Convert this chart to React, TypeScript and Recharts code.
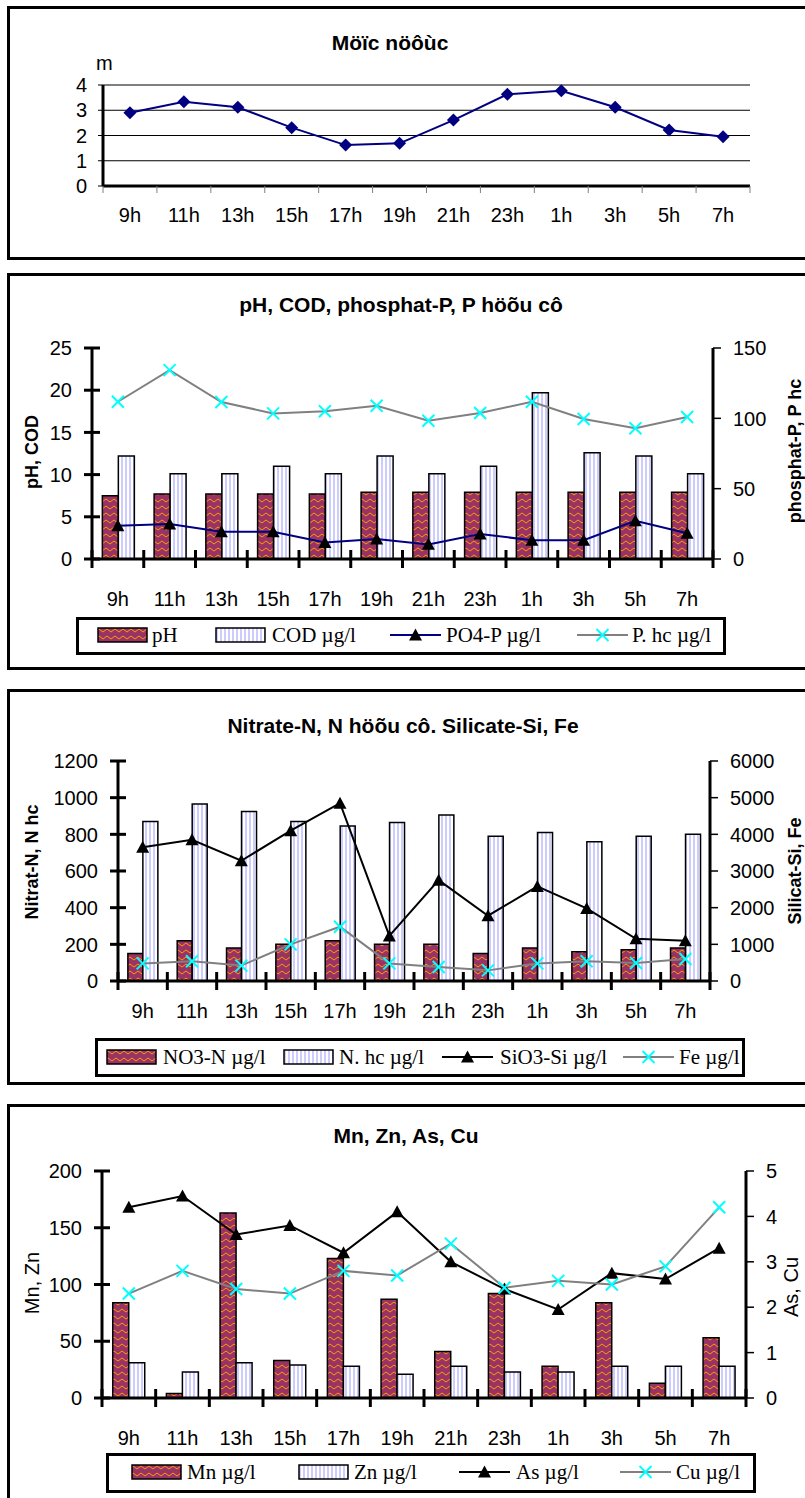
import React from 'react';
import { ComposedChart, Line, Bar, XAxis, YAxis, CartesianGrid, Legend } from 'recharts';

// ---------- data ----------
const hours = ['9h', '11h', '13h', '15h', '17h', '19h', '21h', '23h', '1h', '3h', '5h', '7h'];
const waterLevel = [2.9, 3.34, 3.12, 2.31, 1.62, 1.69, 2.61, 3.63, 3.77, 3.12, 2.22, 1.95];
const pH = [7.5, 7.7, 7.7, 7.7, 7.7, 7.9, 7.9, 7.9, 7.9, 7.9, 7.9, 7.9];
const cod = [12.2, 10.1, 10.1, 11.0, 10.1, 12.2, 10.1, 11.0, 19.7, 12.6, 12.2, 10.1];
const po4p = [23.7, 24.9, 19.4, 19.4, 11.8, 14.2, 10.4, 17.8, 13.3, 13.3, 27.2, 18.3];
const phc = [111.8, 134.3, 111.6, 103.5, 105, 109, 98.3, 103.8, 111.8, 99.5, 92.9, 100.9];
const no3n = [150, 220, 180, 200, 220, 200, 200, 150, 180, 160, 170, 180];
const nhc = [870, 965, 925, 870, 845, 865, 905, 790, 810, 760, 790, 800];
const sio3 = [3650, 3850, 3280, 4100, 4850, 1230, 2750, 1780, 2580, 1980, 1150, 1100];
const fe = [480, 540, 420, 1000, 1480, 480, 380, 290, 480, 540, 490, 600];
const mn = [84, 4, 163, 33, 123, 87, 41, 92, 28, 84, 13, 53];
const zn = [31, 23, 31, 29, 28, 21, 28, 23, 23, 28, 28, 28];
const asv = [4.2, 4.45, 3.6, 3.8, 3.2, 4.1, 3.0, 2.4, 1.95, 2.75, 2.62, 3.3];
const cu = [2.3, 2.8, 2.4, 2.3, 2.8, 2.7, 3.4, 2.43, 2.58, 2.5, 2.9, 4.2];

const ticksLevel = [0, 1, 2, 3, 4];
const ticksPhCod = [0, 5, 10, 15, 20, 25];
const ticksPhosphat = [0, 50, 100, 150];
const ticksNitrat = [0, 200, 400, 600, 800, 1000, 1200];
const ticksSilicat = [0, 1000, 2000, 3000, 4000, 5000, 6000];
const ticksMnZn = [0, 50, 100, 150, 200];
const ticksAsCu = [0, 1, 2, 3, 4, 5];

const data1 = hours.map((h, i) => ({ h, level: waterLevel[i] }));
const data2 = hours.map((h, i) => ({ h, ph: pH[i], cod: cod[i], po4p: po4p[i], phc: phc[i] }));
const data3 = hours.map((h, i) => ({ h, no3n: no3n[i], nhc: nhc[i], sio3: sio3[i], fe: fe[i] }));
const data4 = hours.map((h, i) => ({ h, mn: mn[i], zn: zn[i], as: asv[i], cu: cu[i] }));

// ---------- layout ----------
const W = 805;
const SANS = "'Liberation Sans', Arial, Helvetica, sans-serif";
const SERIF = "'Liberation Serif', 'Times New Roman', Times, serif";

type Box = { top: number; height: number; pl: number; pr: number; pt: number; pb: number; wl: number; wr: number; hx: number };
const margins = (b: Box) => ({
  top: b.pt - b.top,
  left: b.pl - b.wl,
  right: W - b.pr - b.wr,
  bottom: b.top + b.height - b.pb - b.hx,
});
const halfBand = (b: Box) => (b.pr - b.pl) / hours.length / 2;

const L1: Box = { top: 6, height: 254, pl: 103, pr: 750, pt: 85, pb: 186, wl: 50, wr: 0, hx: 50 };
const L2: Box = { top: 273, height: 397, pl: 92, pr: 713, pt: 348, pb: 559, wl: 50, wr: 50, hx: 60 };
const L3: Box = { top: 689, height: 396, pl: 118, pr: 710, pt: 761, pb: 981, wl: 50, wr: 50, hx: 60 };
const L4: Box = { top: 1104, height: 394, pl: 102, pr: 746, pt: 1171, pb: 1398, wl: 50, wr: 50, hx: 60 };

const AXIS = { stroke: '#000', strokeWidth: 3 };

// ---------- ticks ----------
type XTS = { box: Box; t1: number; t2: number; color: string; w: number; dy: number };
const makeXTick = (s: XTS) => (props: any) => {
  const x = Number(props.x);
  const y = Number(props.y);
  const { payload, index } = props;
  const half = halfBand(s.box);
  const isLast = payload && payload.value === hours[hours.length - 1];
  return (
    <g key={`xt${index}`}>
      <path d={`M${x - half},${y + s.t1}L${x - half},${y + s.t2}`} stroke={s.color} strokeWidth={s.w} fill="none" />
      {isLast && (
        <path d={`M${x + half},${y + s.t1}L${x + half},${y + s.t2}`} stroke={s.color} strokeWidth={s.w} fill="none" />
      )}
      <text x={x} y={y + s.dy} textAnchor="middle" fontFamily={SANS} fontSize={20} fill="#000">
        {payload.value}
      </text>
    </g>
  );
};

type YTS = { t1: number; t2: number; color: string; w: number; dx: number; side: 'left' | 'right'; fs: number };
const makeYTick = (s: YTS) => (props: any) => {
  const x = Number(props.x);
  const y = Number(props.y);
  const { payload, index } = props;
  return (
    <g key={`yt${index}`}>
      <path d={`M${x + s.t1},${y}L${x + s.t2},${y}`} stroke={s.color} strokeWidth={s.w} fill="none" />
      <text
        x={s.side === 'left' ? x - s.dx : x + s.dx}
        y={y + s.fs * 0.36}
        textAnchor={s.side === 'left' ? 'end' : 'start'}
        fontFamily={SANS}
        fontSize={s.fs}
        fill="#000"
      >
        {payload.value}
      </text>
    </g>
  );
};

const xTick1 = makeXTick({ box: L1, t1: 0, t2: 7, color: '#808080', w: 1, dy: 36 });
const yTick1 = makeYTick({ t1: -5, t2: 0, color: '#000', w: 1, dx: 16, side: 'left', fs: 20 });
const xTick2 = makeXTick({ box: L2, t1: -9, t2: 9, color: '#000', w: 3, dy: 47 });
const xTick3 = makeXTick({ box: L3, t1: -9, t2: 9, color: '#000', w: 3, dy: 37 });
const xTick4 = makeXTick({ box: L4, t1: -9, t2: 9, color: '#000', w: 3, dy: 47 });
const yTickL = makeYTick({ t1: -8, t2: 8, color: '#000', w: 3, dx: 20, side: 'left', fs: 20 });
const yTickR = makeYTick({ t1: 0, t2: 8, color: '#000', w: 1.5, dx: 20, side: 'right', fs: 20 });

// ---------- markers ----------
const Diamond = ({ cx, cy, c }: any) => (
  <polygon points={`${cx},${cy - 6.5} ${cx + 6.5},${cy} ${cx},${cy + 6.5} ${cx - 6.5},${cy}`} fill={c} />
);
const Tri = ({ cx, cy, c }: any) => (
  <polygon points={`${cx},${cy - 6.5} ${cx + 6.5},${cy + 5.5} ${cx - 6.5},${cy + 5.5}`} fill={c} />
);
const Cross = ({ cx, cy, c }: any) => (
  <g>
    <line x1={cx - 6} y1={cy - 6} x2={cx + 6} y2={cy + 6} stroke={c} strokeWidth={2} />
    <line x1={cx - 6} y1={cy + 6} x2={cx + 6} y2={cy - 6} stroke={c} strokeWidth={2} />
  </g>
);

const diamondDot = (p: any) => <Diamond key={`dm${p.index}`} cx={p.cx} cy={p.cy} c="#000080" />;
const triDot = (p: any) => <Tri key={`tr${p.index}`} cx={p.cx} cy={p.cy} c="#000" />;
const crossDot = (p: any) => <Cross key={`cr${p.index}`} cx={p.cx} cy={p.cy} c="#00FFFF" />;

// ---------- legend ----------
type LegItem = { key: string; kind: 'bar' | 'line'; fill?: string; stroke?: string; marker?: 'tri' | 'cross'; sx: number; tx: number };
const makeLegend = (items: LegItem[], w: number, h: number) => (props: any) => {
  const payload: any[] = props.payload || [];
  const inner = h - 6;
  const mid = inner / 2 - 1;
  return (
    <div
      style={{
        position: 'relative',
        width: w,
        height: h,
        border: '3px solid #000',
        boxSizing: 'border-box',
        background: '#fff',
      }}
    >
      {payload.map((p: any) => {
        const it = items.find((i) => i.key === p.dataKey);
        if (!it) return null;
        return (
          <React.Fragment key={it.key}>
            <svg width={52} height={16} style={{ position: 'absolute', left: it.sx - 3, top: mid - 8 }}>
              {it.kind === 'bar' ? (
                <rect x={1} y={1} width={49} height={14} fill={it.fill} stroke="#000" strokeWidth={1.5} />
              ) : (
                <g>
                  <line x1={0} x2={51} y1={8} y2={8} stroke={it.stroke} strokeWidth={2} />
                  {it.marker === 'tri' ? <Tri cx={25.5} cy={8} c="#000" /> : <Cross cx={25.5} cy={8} c="#00FFFF" />}
                </g>
              )}
            </svg>
            <span
              style={{
                position: 'absolute',
                left: it.tx - 3,
                top: mid - 12,
                fontFamily: SERIF,
                fontSize: 21,
                lineHeight: '24px',
                whiteSpace: 'nowrap',
                color: '#000',
              }}
            >
              {p.value}
            </span>
          </React.Fragment>
        );
      })}
    </div>
  );
};

const legend2 = makeLegend(
  [
    { key: 'ph', kind: 'bar', fill: 'url(#wave)', sx: 21, tx: 76 },
    { key: 'cod', kind: 'bar', fill: 'url(#vstripe)', sx: 139, tx: 196 },
    { key: 'po4p', kind: 'line', stroke: '#000080', marker: 'tri', sx: 314, tx: 370 },
    { key: 'phc', kind: 'line', stroke: '#808080', marker: 'cross', sx: 501, tx: 556 },
  ],
  650,
  38
);
const legend3 = makeLegend(
  [
    { key: 'no3n', kind: 'bar', fill: 'url(#wave)', sx: 11, tx: 68 },
    { key: 'nhc', kind: 'bar', fill: 'url(#vstripe)', sx: 188, tx: 244 },
    { key: 'sio3', kind: 'line', stroke: '#000', marker: 'tri', sx: 347, tx: 405 },
    { key: 'fe', kind: 'line', stroke: '#808080', marker: 'cross', sx: 528, tx: 584 },
  ],
  650,
  39
);
const legend4 = makeLegend(
  [
    { key: 'mn', kind: 'bar', fill: 'url(#wave)', sx: 25, tx: 81 },
    { key: 'zn', kind: 'bar', fill: 'url(#vstripe)', sx: 192, tx: 248 },
    { key: 'as', kind: 'line', stroke: '#000', marker: 'tri', sx: 353, tx: 410 },
    { key: 'cu', kind: 'line', stroke: '#808080', marker: 'cross', sx: 514, tx: 570 },
  ],
  650,
  40
);

const legendProps = (box: Box, left: number, top: number, w: number, h: number, content: any) => ({
  layout: 'vertical' as const,
  align: 'center' as const,
  verticalAlign: 'middle' as const,
  content,
  wrapperStyle: { left, top: top - box.top, width: w, height: h, position: 'absolute' as const },
});

// ---------- texts ----------
const Title = ({ x, y, children }: any) => (
  <text x={x} y={y} textAnchor="middle" fontFamily={SANS} fontWeight="bold" fontSize={21} fill="#000">
    {children}
  </text>
);
const VText = ({ x, y, bold, fs, children }: any) => (
  <text
    transform={`translate(${x},${y}) rotate(-90)`}
    textAnchor="middle"
    fontFamily={SANS}
    fontWeight={bold ? 'bold' : 'normal'}
    fontSize={fs}
    fill="#000"
  >
    {children}
  </text>
);

const panelStyle = (top: number, height: number): React.CSSProperties => ({
  position: 'absolute',
  left: 7,
  top,
  width: 812,
  height,
  border: '3px solid #000',
  boxSizing: 'border-box',
});

const xAxisProps = (b: Box, tick: any) => ({
  dataKey: 'h',
  scale: 'band' as const,
  interval: 0,
  tickSize: 0,
  tickMargin: 0,
  height: b.hx,
  axisLine: AXIS,
  tickLine: false,
  tick,
});

export default function App() {
  return (
    <div
      style={{
        position: 'absolute',
        left: 0,
        top: 0,
        width: W,
        height: 1498,
        overflow: 'hidden',
        background: '#fff',
      }}
    >
      <svg width={0} height={0} style={{ position: 'absolute' }}>
        <defs>
          <pattern id="wave" patternUnits="userSpaceOnUse" width={8} height={7}>
            <rect x={0} y={0} width={8} height={7} fill="#993366" />
            <path d="M0,3.5 Q2,0.5 4,3.5 T8,3.5" fill="none" stroke="#FF9900" strokeWidth={1} />
          </pattern>
          <pattern id="vstripe" patternUnits="userSpaceOnUse" width={4} height={4}>
            <rect x={0} y={0} width={4} height={4} fill="#fff" />
            <line x1={2} x2={2} y1={0} y2={4} stroke="#9999FF" strokeWidth={1} />
          </pattern>
        </defs>
      </svg>

      <div style={panelStyle(6, 254)} />
      <div style={panelStyle(273, 397)} />
      <div style={panelStyle(689, 396)} />
      <div style={panelStyle(1104, 430)} />

      {/* Panel 1 */}
      <div style={{ position: 'absolute', left: 0, top: L1.top }}>
        <ComposedChart width={W} height={L1.height} margin={margins(L1)} data={data1}>
          <CartesianGrid vertical={false} stroke="#000" strokeWidth={1} />
          <XAxis {...xAxisProps(L1, xTick1)} />
          <XAxis xAxisId="top" orientation="top" dataKey="h" scale="band" height={0} tick={false} tickLine={false} axisLine={AXIS} />
          <YAxis domain={[0, 4]} ticks={ticksLevel} interval={0} width={L1.wl} tickSize={0} tickMargin={0} axisLine={AXIS} tickLine={false} tick={yTick1} />
          <YAxis yAxisId="r" orientation="right" domain={[0, 4]} width={0} tick={false} tickLine={false} axisLine={AXIS} />
          <Line dataKey="level" stroke="#000080" strokeWidth={2} dot={diamondDot} activeDot={false} isAnimationActive={false} />
        </ComposedChart>
      </div>

      {/* Panel 2 */}
      <div style={{ position: 'absolute', left: 0, top: L2.top }}>
        <ComposedChart width={W} height={L2.height} margin={margins(L2)} data={data2} barCategoryGap="20%" barGap={0}>
          <XAxis {...xAxisProps(L2, xTick2)} />
          <XAxis xAxisId="top" orientation="top" dataKey="h" height={0} tick={false} tickLine={false} axisLine={AXIS} />
          <YAxis yAxisId="left" domain={[0, 25]} ticks={ticksPhCod} interval={0} width={L2.wl} tickSize={0} tickMargin={0} axisLine={AXIS} tickLine={false} tick={yTickL} />
          <YAxis yAxisId="right" orientation="right" domain={[0, 150]} ticks={ticksPhosphat} interval={0} width={L2.wr} tickSize={0} tickMargin={0} axisLine={AXIS} tickLine={false} tick={yTickR} />
          <Bar yAxisId="left" dataKey="ph" name="pH" fill="url(#wave)" stroke="#000" strokeWidth={1.5} isAnimationActive={false} />
          <Bar yAxisId="left" dataKey="cod" name="COD µg/l" fill="url(#vstripe)" stroke="#000" strokeWidth={1.5} isAnimationActive={false} />
          <Line yAxisId="right" dataKey="po4p" name="PO4-P µg/l" stroke="#000080" strokeWidth={2} dot={triDot} activeDot={false} isAnimationActive={false} />
          <Line yAxisId="right" dataKey="phc" name="P. hc µg/l" stroke="#808080" strokeWidth={2} dot={crossDot} activeDot={false} isAnimationActive={false} />
          <Legend {...legendProps(L2, 76, 617, 650, 38, legend2)} />
        </ComposedChart>
      </div>

      {/* Panel 3 */}
      <div style={{ position: 'absolute', left: 0, top: L3.top }}>
        <ComposedChart width={W} height={L3.height} margin={margins(L3)} data={data3} barCategoryGap="20%" barGap={0}>
          <XAxis {...xAxisProps(L3, xTick3)} />
          <XAxis xAxisId="top" orientation="top" dataKey="h" height={0} tick={false} tickLine={false} axisLine={AXIS} />
          <YAxis yAxisId="left" domain={[0, 1200]} ticks={ticksNitrat} interval={0} width={L3.wl} tickSize={0} tickMargin={0} axisLine={AXIS} tickLine={false} tick={yTickL} />
          <YAxis yAxisId="right" orientation="right" domain={[0, 6000]} ticks={ticksSilicat} interval={0} width={L3.wr} tickSize={0} tickMargin={0} axisLine={AXIS} tickLine={false} tick={yTickR} />
          <Bar yAxisId="left" dataKey="no3n" name="NO3-N µg/l" fill="url(#wave)" stroke="#000" strokeWidth={1.5} isAnimationActive={false} />
          <Bar yAxisId="left" dataKey="nhc" name="N. hc µg/l" fill="url(#vstripe)" stroke="#000" strokeWidth={1.5} isAnimationActive={false} />
          <Line yAxisId="right" dataKey="sio3" name="SiO3-Si µg/l" stroke="#000" strokeWidth={2} dot={triDot} activeDot={false} isAnimationActive={false} />
          <Line yAxisId="right" dataKey="fe" name="Fe µg/l" stroke="#808080" strokeWidth={2} dot={crossDot} activeDot={false} isAnimationActive={false} />
          <Legend {...legendProps(L3, 95, 1038, 650, 39, legend3)} />
        </ComposedChart>
      </div>

      {/* Panel 4 */}
      <div style={{ position: 'absolute', left: 0, top: L4.top }}>
        <ComposedChart width={W} height={L4.height} margin={margins(L4)} data={data4} barCategoryGap="20%" barGap={0}>
          <XAxis {...xAxisProps(L4, xTick4)} />
          <XAxis xAxisId="top" orientation="top" dataKey="h" height={0} tick={false} tickLine={false} axisLine={AXIS} />
          <YAxis yAxisId="left" domain={[0, 200]} ticks={ticksMnZn} interval={0} width={L4.wl} tickSize={0} tickMargin={0} axisLine={AXIS} tickLine={false} tick={yTickL} />
          <YAxis yAxisId="right" orientation="right" domain={[0, 5]} ticks={ticksAsCu} interval={0} width={L4.wr} tickSize={0} tickMargin={0} axisLine={AXIS} tickLine={false} tick={yTickR} />
          <Bar yAxisId="left" dataKey="mn" name="Mn µg/l" fill="url(#wave)" stroke="#000" strokeWidth={1.5} isAnimationActive={false} />
          <Bar yAxisId="left" dataKey="zn" name="Zn µg/l" fill="url(#vstripe)" stroke="#000" strokeWidth={1.5} isAnimationActive={false} />
          <Line yAxisId="right" dataKey="as" name="As µg/l" stroke="#000" strokeWidth={2} dot={triDot} activeDot={false} isAnimationActive={false} />
          <Line yAxisId="right" dataKey="cu" name="Cu µg/l" stroke="#808080" strokeWidth={2} dot={crossDot} activeDot={false} isAnimationActive={false} />
          <Legend {...legendProps(L4, 106, 1453, 650, 40, legend4)} />
        </ComposedChart>
      </div>

      {/* Overlay texts */}
      <svg width={W} height={1498} style={{ position: 'absolute', left: 0, top: 0, pointerEvents: 'none' }}>
        <Title x={390} y={50}>Möïc nöôùc</Title>
        <text x={96} y={70} fontFamily={SANS} fontSize={20} fill="#000">m</text>

        <Title x={401} y={312}>pH,  COD, phosphat-P, P höõu cô</Title>
        <VText x={38} y={452} bold fs={18}>pH, COD</VText>
        <VText x={801} y={451} bold fs={18}>phosphat-P, P hc</VText>

        <Title x={403} y={733}>Nitrate-N, N höõu cô. Silicate-Si, Fe</Title>
        <VText x={38} y={862} bold fs={18}>Nitrat-N, N hc</VText>
        <VText x={801} y={871} bold fs={18}>Silicat-Si, Fe</VText>

        <Title x={406} y={1143}>Mn, Zn, As, Cu</Title>
        <VText x={39} y={1283} fs={20}>Mn, Zn</VText>
        <VText x={798} y={1287} fs={20}>As, Cu</VText>
      </svg>
    </div>
  );
}
